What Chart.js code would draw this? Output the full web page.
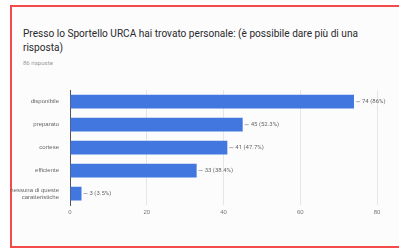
<!DOCTYPE html>
<html>
<head>
<meta charset="utf-8">
<script src="https://cdn.jsdelivr.net/npm/chart.js@4/dist/chart.umd.min.js"></script>
<style>
  body { margin: 0; width: 399px; height: 248px; background: #fff; overflow: hidden; font-family: Roboto, "Open Sans", sans-serif; }
  #frame { position: absolute; left: 10px; top: 5px; width: 400px; height: 239px; border: 2px solid #f44a4a; background: #fcfcfd; }
  #title { position: absolute; left: 23px; top: 27px; width: 400px; font-size: 10.1px; line-height: 14px; color: #2a2a2a; white-space: nowrap; }
  #sub { position: absolute; left: 23px; top: 59px; font-size: 6px; color: #999; }
  #wrap { position: absolute; left: 0; top: 80px; width: 399px; height: 145px; }
</style>
</head>
<body>
<div id="frame"></div>
<div id="title">Presso lo Sportello URCA hai trovato personale: (è possibile dare più di una<br>risposta)</div>
<div id="sub">86 risposte</div>
<div id="wrap"><canvas id="barChart"></canvas></div>
<script>
const categories = ["disponibile", "preparato", "cortese", "efficiente", ["nessuna di queste", "caratteristiche"]];
const counts = [74, 45, 41, 33, 3];
const percents = ["86%", "52.3%", "47.7%", "38.4%", "3.5%"];
const xTicks = [0, 20, 40, 60, 80];

const valueLabels = {
  id: "valueLabels",
  afterDatasetsDraw(chart) {
    const ctx = chart.ctx;
    const meta = chart.getDatasetMeta(0);
    ctx.save();
    ctx.font = "6px Roboto, sans-serif";
    ctx.fillStyle = "#666";
    ctx.strokeStyle = "#999";
    ctx.lineWidth = 0.8;
    ctx.textBaseline = "middle";
    meta.data.forEach((bar, i) => {
      ctx.beginPath();
      ctx.moveTo(bar.x + 2, bar.y);
      ctx.lineTo(bar.x + 6, bar.y);
      ctx.stroke();
      ctx.fillText(counts[i] + " (" + percents[i] + ")", bar.x + 8, bar.y);
    });
    ctx.restore();
  },
};

new Chart(document.getElementById("barChart"), {
  type: "bar",
  data: {
    labels: categories,
    datasets: [
      {
        data: counts,
        backgroundColor: "#4177df",
        barPercentage: 0.6,
        categoryPercentage: 1,
      },
    ],
  },
  plugins: [valueLabels],
  options: {
    indexAxis: "y",
    responsive: true,
    maintainAspectRatio: false,
    animation: false,
    layout: { padding: { top: 5, right: 22, left: 0, bottom: 0 } },
    plugins: {
      legend: { display: false },
      tooltip: { enabled: false },
    },
    scales: {
      x: {
        min: 0,
        max: 80,
        afterBuildTicks: (scale) => {
          scale.ticks = xTicks.map((v) => ({ value: v }));
        },
        afterFit: (scale) => {
          scale.height = 20;
        },
        ticks: {
          color: "#777",
          padding: 4,
          font: { size: 6 },
        },
        grid: {
          color: (c) => (c.tick && c.tick.value === 0 ? "#555" : "#e6e6e6"),
          drawTicks: false,
        },
        border: { display: false },
      },
      y: {
        afterFit: (scale) => {
          scale.width = 70;
        },
        ticks: {
          color: "#666",
          padding: 3,
          font: { size: 6 },
        },
        grid: { display: false },
        border: { color: "#555", width: 1 },
      },
    },
  },
});
</script>
</body>
</html>
